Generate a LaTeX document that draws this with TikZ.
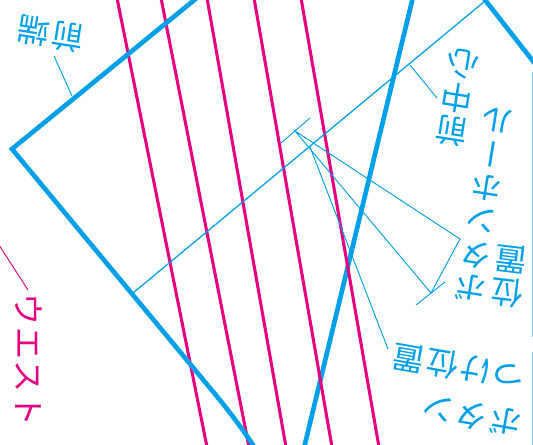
\documentclass[tikz,border=0pt]{standalone}
\usepackage{fontspec}
\newfontfamily\jp{Noto Sans CJK JP}[RawFeature=+vert]
\newfontfamily\jph{Noto Sans CJK JP}[LetterSpace=6]
\definecolor{cblue}{HTML}{00A0E9}
\definecolor{cmag}{HTML}{E4007F}
\definecolor{clight}{HTML}{7FCEF4}
\tikzset{
  outline/.style={draw=cblue,line width=3.5pt,line join=miter},
  seam/.style={draw=cmag,line width=2.3pt},
  fold/.style={draw=cblue,line width=0.95pt},
  leader/.style={draw=cblue,line width=0.7pt},
  magleader/.style={draw=cmag,line width=0.7pt},
  edge/.style={draw=clight,line width=0.8pt},
  vlabel/.style={text=cblue,inner sep=0pt,align=center,font={\jp\fontsize{24}{25.5}\selectfont}},
  hlabel/.style={text=cblue,inner sep=0pt,font={\jph\fontsize{24}{25.5}\selectfont}},
}
\begin{document}
\begin{tikzpicture}[x=0.75pt,y=-0.75pt]
\useasboundingbox (0,0) rectangle (533,445);
\clip (0,0) rectangle (533,445);
% named points
\coordinate (cTL) at (198,-3);
\coordinate (cL) at (12,149);
\coordinate (cC) at (210,388);
\coordinate (cB) at (255,448);
\coordinate (cTR) at (482,-4);
\coordinate (cR) at (536,65);
\coordinate (fTop) at (413,-3);
\coordinate (fBot) at (304,448);
\coordinate (cfA) at (133,293);
\coordinate (cfB) at (485,1);
% right front line lies under the pink lines
\draw[outline] (fTop) -- (fBot);
% pink
\foreach \a/\b in {117/207,161/249,207/286,254/332,301/379}
  \draw[seam] (\a,-2) -- (\b,447);
% outline
\draw[outline] (cTL) -- (cL) -- (cC) .. controls (225,406) and (240,425) .. (cB);
\draw[outline] (cTR) -- (cR);
\draw[fold] (cfA) -- (cfB);
\draw[edge] (532.5,72) -- (532.5,337);
\draw[edge] (532.5,352) -- (532.5,445);
% ticks and leaders
\coordinate (t1a) at (281,143);
\coordinate (t1b) at (310,118);
\coordinate (t1c) at (295,131);
\coordinate (t2a) at (416,305);
\coordinate (t2b) at (445,282);
\coordinate (t2c) at (431,293);
\coordinate (elbow) at (460,239);
\coordinate (btnS) at (310,147);
\coordinate (btnE) at (388,349);
\coordinate (cfl) at (410,65);
\coordinate (cfe) at (437,98);
\coordinate (frS) at (54,56);
\coordinate (frE) at (72,96);
\coordinate (wS) at (-1,245);
\coordinate (wE) at (28,290);
\draw[leader] (t1a) -- (t1b);
\draw[leader] (t2a) -- (t2b);
\draw[leader] (t1c) -- (elbow) -- (t2c) -- cycle;
\draw[leader] (btnS) -- (btnE);
\draw[leader] (cfl) -- (cfe);
\draw[leader] (frS) -- (frE);
\draw[magleader] (wS) -- (wE);
% labels
\node[hlabel,rotate=171] (front) at (51,34) {前端};
\node[vlabel,rotate=171] (cf) at (457,98) {前\\中\\心};
\node[vlabel,rotate=171] (bh) at (484,205) {ボ\\タ\\ン\\ホ\\ー\\ル};
\node[vlabel,rotate=173] (bhp) at (509,276) {位\\置};
\node[hlabel,rotate=170] (att) at (459,367) {つけ位置};
\node[hlabel,rotate=170] (btn) at (472,416) {ボタン};
\node[hlabel,rotate=-90,text=cmag] (waist) at (29,360) {ウエスト};
\end{tikzpicture}
\end{document}
